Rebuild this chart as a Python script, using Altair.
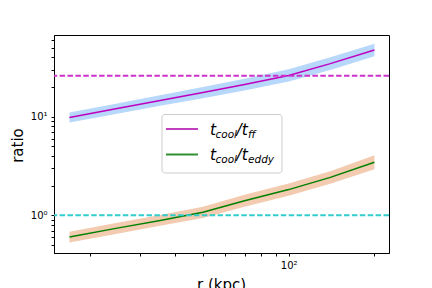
import altair as alt
import pandas as pd

# ---- data ----
r = [17, 25, 35, 50, 70, 100, 140, 200]
ff = [9.8, 12.1, 14.5, 17.6, 21.2, 26.2, 34.5, 47.5]
ff_lo = [8.7, 10.7, 12.8, 15.4, 18.4, 22.7, 29.8, 41.0]
ff_hi = [11.0, 13.6, 16.4, 20.0, 24.2, 30.2, 40.0, 55.0]
eddy = [0.60, 0.74, 0.88, 1.07, 1.40, 1.82, 2.42, 3.45]
eddy_lo = [0.53, 0.65, 0.78, 0.94, 1.22, 1.58, 2.09, 2.93]
eddy_hi = [0.68, 0.84, 1.00, 1.22, 1.61, 2.10, 2.80, 4.06]
thresholds = [26.0, 1.0]
series = ["ff", "eddy"]
x_ticks = [20, 30, 40, 50, 60, 70, 80, 90, 100, 200]
y_ticks = [0.5, 0.6, 0.7, 0.8, 0.9, 1, 2, 3, 4, 5, 6, 7, 8, 9, 10, 20, 30, 40, 50, 60]

rows = []
for i, rv in enumerate(r):
    rows.append(dict(r=rv, series="ff", val=ff[i], lo=ff_lo[i], hi=ff_hi[i]))
    rows.append(dict(r=rv, series="eddy", val=eddy[i], lo=eddy_lo[i], hi=eddy_hi[i]))
df = pd.DataFrame(rows)
df_h = pd.DataFrame({"y": thresholds, "series": series})

W, H = 335, 218
FONT = "DejaVu Sans"

xs = alt.Scale(type="log", domain=[15.0, 225.0], nice=False)
ys = alt.Scale(type="log", domain=[0.414, 67.3], nice=False)

x_axis = alt.Axis(
    values=x_ticks, title="r (kpc)", grid=False, tickSize=3, tickColor="black",
    domainColor="black", labelColor="black", labelFont=FONT, labelFontSize=10,
    labelPadding=4,
    labelExpr="datum.value == 100 ? '10²' : ''",
    titleFont=FONT, titleFontSize=15, titleFontWeight="normal", titleColor="black",
    titleY=36, titleBaseline="alphabetic", titleX=167,
)
y_axis = alt.Axis(
    values=y_ticks, title="ratio", grid=False, tickSize=3, tickColor="black",
    domainColor="black", labelColor="black", labelFont=FONT, labelFontSize=10,
    labelPadding=4,
    labelExpr="datum.value == 1 ? '10⁰' : (datum.value == 10 ? '10¹' : '')",
    titleFont=FONT, titleFontSize=15, titleFontWeight="normal", titleColor="black",
    titleX=-37, titleY=110, titleAngle=270, titleAlign="center", titleBaseline="middle",
)

base = alt.Chart(df)
bands = base.mark_area(opacity=1).encode(
    x=alt.X("r:Q", scale=xs, axis=x_axis),
    y=alt.Y("lo:Q", scale=ys, axis=y_axis),
    y2="hi:Q",
    fill=alt.Fill("series:N", scale=alt.Scale(domain=series, range=["#b7d7fb", "#f3cbb0"]), legend=None),
    detail="series:N",
)
lines = base.mark_line(strokeWidth=1.5).encode(
    x=alt.X("r:Q", scale=xs),
    y=alt.Y("val:Q", scale=ys),
    stroke=alt.Stroke("series:N", scale=alt.Scale(domain=series, range=["#bf00bf", "#008000"]), legend=None),
    detail="series:N",
)
rules = alt.Chart(df_h).mark_rule(strokeWidth=2, strokeDash=[5.5, 2.4]).encode(
    y=alt.Y("y:Q", scale=ys),
    stroke=alt.Stroke("series:N", scale=alt.Scale(domain=series, range=["#cc33cc", "#33cccc"]), legend=None),
)

one = pd.DataFrame({"a": [0]})
leg_box = alt.Chart(one).mark_rect(
    fill="white", fillOpacity=0.8, stroke="#cccccc", strokeWidth=1, cornerRadius=3
).encode(x=alt.value(108), x2=alt.value(228), y=alt.value(79.5), y2=alt.value(138))
leg_l1 = alt.Chart(one).mark_rule(stroke="#c040c0", strokeWidth=2).encode(
    x=alt.value(112), x2=alt.value(144), y=alt.value(94))
leg_l2 = alt.Chart(one).mark_rule(stroke="#309030", strokeWidth=2).encode(
    x=alt.value(112), x2=alt.value(144), y=alt.value(119.5))


def txt(s, x, y, size):
    return alt.Chart(one).mark_text(
        text=s, font=FONT, fontStyle="italic", fontSize=size, align="left",
        baseline="alphabetic", color="black"
    ).encode(x=alt.value(x), y=alt.value(y))


leg_txt = [
    txt("t", 156, 100, 15.5), txt("cool", 161.5, 102.5, 10.5), txt("/t", 182.5, 100, 15.5), txt("ff", 194, 102.5, 10.5),
    txt("t", 156, 125, 15.5), txt("cool", 161.5, 127.5, 10.5), txt("/t", 182.5, 125, 15.5), txt("eddy", 194, 127.5, 10.5),
]

chart = alt.layer(bands, lines, rules, leg_box, leg_l1, leg_l2, *leg_txt).resolve_scale(
    fill="independent", stroke="independent"
).properties(
    width=W, height=H,
    autosize=alt.AutoSizeParams(type="none"),
    padding={"left": 46, "top": 27, "right": 35, "bottom": 35},
    background="white",
).configure_view(stroke="black", strokeWidth=1)

chart.save("out.html", embed_options={"renderer": "svg", "actions": False})
